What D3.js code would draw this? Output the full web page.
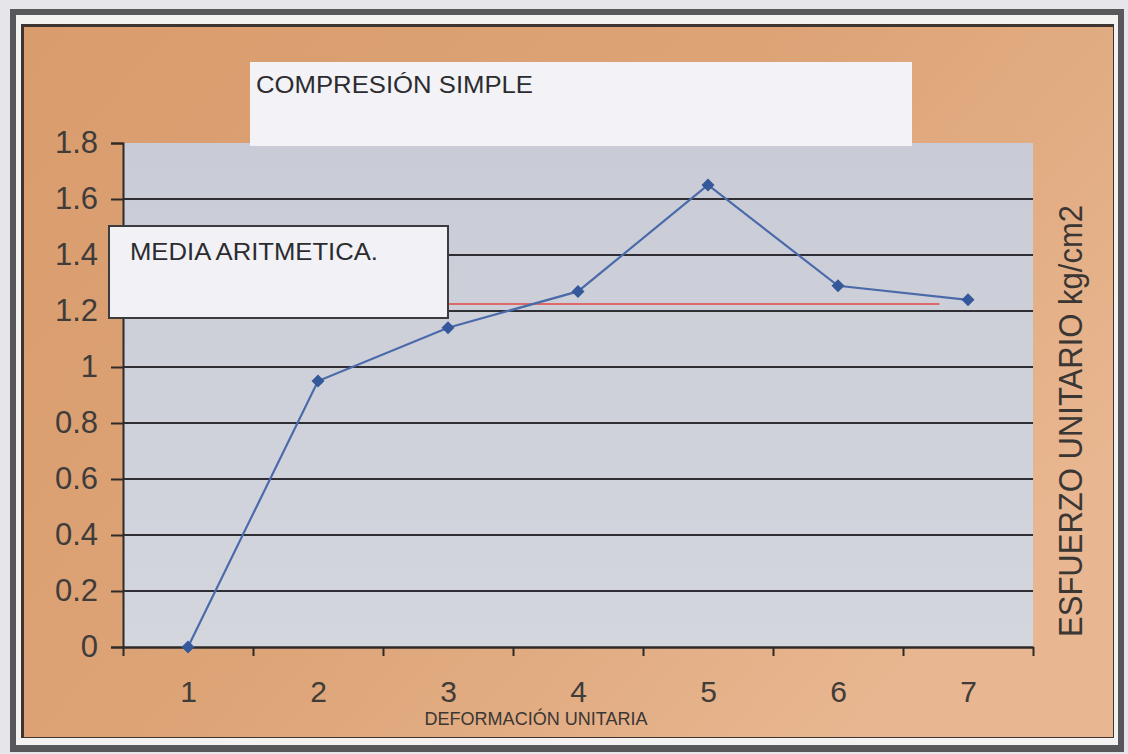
<!DOCTYPE html>
<html>
<head>
<meta charset="utf-8">
<script src="https://cdn.jsdelivr.net/npm/d3@7"></script>
<style>
  html, body { margin: 0; padding: 0; background: #e6e6ea; }
  svg { display: block; font-family: "Liberation Sans", Arial, sans-serif; }
</style>
</head>
<body>
<svg id="chart" width="1128" height="754"></svg>
<script>
// Unconfined compression test: unit stress per unit strain step
const categories = [1, 2, 3, 4, 5, 6, 7];
const stressValues = [0, 0.95, 1.14, 1.27, 1.65, 1.29, 1.24];
const yTickValues = [0, 0.2, 0.4, 0.6, 0.8, 1, 1.2, 1.4, 1.6, 1.8];
const meanValue = 1.225;
const meanSpan = [1, 6.78];
const titleText = "COMPRESIÓN SIMPLE";
const legendText = "MEDIA ARITMETICA.";
const xAxisTitle = "DEFORMACIÓN UNITARIA";
const yAxisTitle = "ESFUERZO UNITARIO kg/cm2";

const svg = d3.select("#chart");
const plot = { left: 123, right: 1033, top: 143, bottom: 647 };

const defs = svg.append("defs");
const bg = defs.append("linearGradient").attr("id", "bgGrad")
  .attr("x1", "0").attr("y1", "0").attr("x2", "1").attr("y2", "0.6");
bg.append("stop").attr("offset", "0").attr("stop-color", "#d99c6d");
bg.append("stop").attr("offset", "0.55").attr("stop-color", "#dda477");
bg.append("stop").attr("offset", "1").attr("stop-color", "#e8b690");

const pg = defs.append("linearGradient").attr("id", "plotGrad")
  .attr("x1", "0").attr("y1", "0").attr("x2", "0").attr("y2", "1");
pg.append("stop").attr("offset", "0").attr("stop-color", "#c9ccd6");
pg.append("stop").attr("offset", "1").attr("stop-color", "#d4d6de");

// Outer frame
svg.append("rect").attr("x", 10).attr("y", 9).attr("width", 1114).attr("height", 743)
  .attr("fill", "#58585c");
svg.append("rect").attr("x", 16).attr("y", 15).attr("width", 1102).attr("height", 730)
  .attr("fill", "#f4f2f0");
svg.append("rect").attr("x", 21).attr("y", 24).attr("width", 1093).attr("height", 714)
  .attr("fill", "#3e3430");
svg.append("rect").attr("x", 24).attr("y", 27).attr("width", 1089).attr("height", 710)
  .attr("fill", "url(#bgGrad)");

// Scales
const x = d3.scaleLinear().domain([0.5, categories.length + 0.5]).range([plot.left, plot.right]);
const y = d3.scaleLinear().domain([0, 1.8]).range([plot.bottom, plot.top]);

// Plot area
svg.append("rect")
  .attr("x", plot.left).attr("y", plot.top)
  .attr("width", plot.right - plot.left).attr("height", plot.bottom - plot.top)
  .attr("fill", "url(#plotGrad)");

// Horizontal gridlines
svg.append("g").selectAll("line")
  .data(yTickValues.filter(v => v > 0 && v < 1.8))
  .join("line")
  .attr("x1", plot.left).attr("x2", plot.right)
  .attr("y1", d => y(d)).attr("y2", d => y(d))
  .attr("stroke", "#2e2e34").attr("stroke-width", 2);

// Y axis
const yAxis = svg.append("g")
  .attr("transform", `translate(${plot.left},0)`)
  .call(d3.axisLeft(y).tickValues(yTickValues).tickFormat(d3.format("")).tickSize(12).tickPadding(13));
yAxis.select(".domain").attr("stroke", "#2e2a28").attr("stroke-width", 2);
yAxis.selectAll(".tick line").attr("stroke", "#2e2a28").attr("stroke-width", 2);
yAxis.selectAll(".tick text")
  .attr("fill", "#403c3a").style("font-size", "31px")
  .style("font-family", "'Liberation Sans', Arial, sans-serif");

// X axis: ticks between categories
const bounds = d3.range(categories.length + 1).map(i => i + 0.5);
const xAxisTicks = svg.append("g")
  .attr("transform", `translate(0,${plot.bottom})`)
  .call(d3.axisBottom(x).tickValues(bounds).tickFormat("").tickSize(9).tickSizeOuter(0));
xAxisTicks.select(".domain").attr("stroke", "#2e2a28").attr("stroke-width", 2.5);
xAxisTicks.selectAll(".tick line").attr("stroke", "#2e2a28").attr("stroke-width", 2);

// X axis: category labels
const xAxisLabels = svg.append("g")
  .attr("transform", `translate(0,${plot.bottom})`)
  .call(d3.axisBottom(x).tickValues(categories).tickFormat(d3.format("d")).tickSize(0).tickPadding(34));
xAxisLabels.select(".domain").remove();
xAxisLabels.selectAll(".tick text")
  .attr("fill", "#403c3a").style("font-size", "30px")
  .style("font-family", "'Liberation Sans', Arial, sans-serif");

// Mean line
svg.append("line")
  .attr("x1", x(meanSpan[0])).attr("x2", x(meanSpan[1]))
  .attr("y1", y(meanValue)).attr("y2", y(meanValue))
  .attr("stroke", "#dc6a68").attr("stroke-width", 2);

// Stress series
const pts = categories.map((c, i) => [c, stressValues[i]]);
svg.append("path")
  .datum(pts)
  .attr("fill", "none")
  .attr("stroke", "#4a6aaa")
  .attr("stroke-width", 2.2)
  .attr("d", d3.line().x(d => x(d[0])).y(d => y(d[1])));

// Square markers turned 45° to form diamonds
svg.append("g").selectAll("path")
  .data(pts)
  .join("path")
  .attr("transform", d => `translate(${x(d[0])},${y(d[1])}) rotate(45)`)
  .attr("d", d3.symbol(d3.symbolSquare, 85))
  .attr("fill", "#35589a");

// Title box
svg.append("rect").attr("x", 250).attr("y", 62).attr("width", 662).attr("height", 84)
  .attr("fill", "#f3f3f7");
svg.append("text").attr("x", 256).attr("y", 93)
  .attr("fill", "#2c2c30").style("font-size", "24px")
  .attr("textLength", 277).attr("lengthAdjust", "spacingAndGlyphs")
  .text(titleText);

// Legend box
svg.append("rect").attr("x", 109).attr("y", 226).attr("width", 339).attr("height", 92)
  .attr("fill", "#f2f2f6").attr("stroke", "#3c3c40").attr("stroke-width", 2);
svg.append("text").attr("x", 130).attr("y", 260)
  .attr("fill", "#2c2c30").style("font-size", "24px")
  .attr("textLength", 248).attr("lengthAdjust", "spacingAndGlyphs")
  .text(legendText);

// Axis titles
svg.append("text").attr("x", 536).attr("y", 725)
  .attr("text-anchor", "middle")
  .attr("fill", "#3a3634").style("font-size", "19px")
  .attr("textLength", 223).attr("lengthAdjust", "spacingAndGlyphs")
  .text(xAxisTitle);

svg.append("text")
  .attr("transform", "translate(1082,421) rotate(-90)")
  .attr("text-anchor", "middle")
  .attr("fill", "#3a3634").style("font-size", "33px")
  .attr("textLength", 432).attr("lengthAdjust", "spacingAndGlyphs")
  .text(yAxisTitle);
</script>
</body>
</html>
